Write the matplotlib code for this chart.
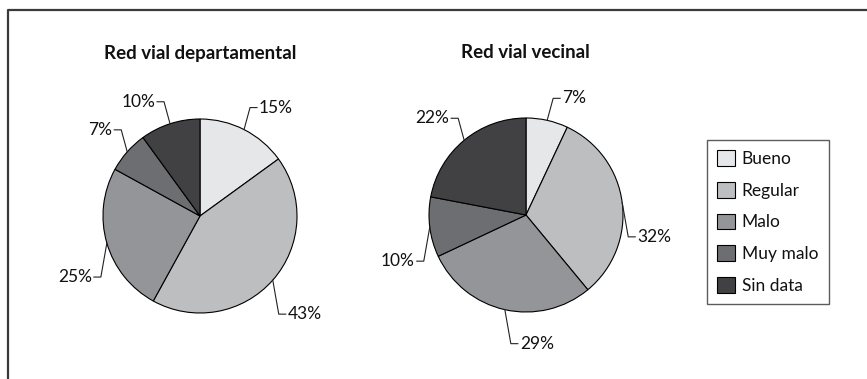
import numpy as np
import matplotlib
matplotlib.use("Agg")
import matplotlib.pyplot as plt

plt.rcParams['font.family'] = ['Lato', 'DejaVu Sans']

# ---- data ----
categories = ["Bueno", "Regular", "Malo", "Muy malo", "Sin data"]
titles = ["Red vial departamental", "Red vial vecinal"]
departamental = [15, 43, 25, 7, 10]
vecinal = [7, 32, 29, 10, 22]
colors = ["#e6e7e8", "#bcbec0", "#939598", "#6d6e71", "#414042"]

W, H = 867, 379
fig = plt.figure(figsize=(W / 100, H / 100), dpi=100)
ax = fig.add_axes([0, 0, 1, 1])

# frame (top and left only)
frame_col = "#3a3a3a"
ax.plot([7.5, 7.5, W], [0, H - 10, H - 10], color=frame_col, lw=1.6, solid_capstyle='butt')

R = 97
centers = [(200, H - 216), (526, H - 215)]
title_x = [200, 525]
label_fs = 12.5
title_fs = 13.5

wedges_for_legend = None
for vals, (cx, cy), title, tx in zip([departamental, vecinal], centers, titles, title_x):
    wedges, _ = ax.pie(vals, colors=colors, startangle=90, counterclock=False,
                       radius=R, center=(cx, cy), frame=True,
                       wedgeprops=dict(edgecolor='black', linewidth=0.8))
    if wedges_for_legend is None:
        wedges_for_legend = wedges
    ax.text(tx, H - 53, title, ha='center', va='center', fontsize=title_fs,
            fontweight='bold', color='#111111')
    # labels with elbow leaders
    for w, v in zip(wedges, vals):
        th = np.deg2rad((w.theta1 + w.theta2) / 2)
        ex, ey = cx + R * np.cos(th), cy + R * np.sin(th)
        sx = 1 if np.cos(th) + 0.25 >= 0 else -1
        up = np.sin(th) > 0.3
        c_x = ex + sx * 6
        c_y = ey + (22 if up else -34)
        d_x = c_x + sx * 7
        ax.plot([ex, c_x, d_x], [ey, c_y, c_y], color='#222222', lw=0.8)
        ax.text(d_x + sx * 2, c_y, f"{v}%", ha='left' if sx > 0 else 'right',
                va='center', fontsize=label_fs, color='#111111')

ax.set_xlim(0, W)
ax.set_ylim(0, H)
ax.set_aspect('equal')
ax.axis('off')

leg = ax.legend(wedges_for_legend, categories, loc='upper left',
                bbox_to_anchor=(707 / W, 1 - 140 / H), bbox_transform=ax.transAxes,
                frameon=True, fancybox=False, fontsize=label_fs,
                handlelength=1.0, handleheight=1.0, labelspacing=0.86,
                handletextpad=0.4, borderpad=0.6, borderaxespad=0)
leg.get_frame().set_edgecolor('#333333')
leg.get_frame().set_linewidth(1.0)
for t in leg.get_texts():
    t.set_color('#111111')

fig.savefig("out.png", dpi=100)
